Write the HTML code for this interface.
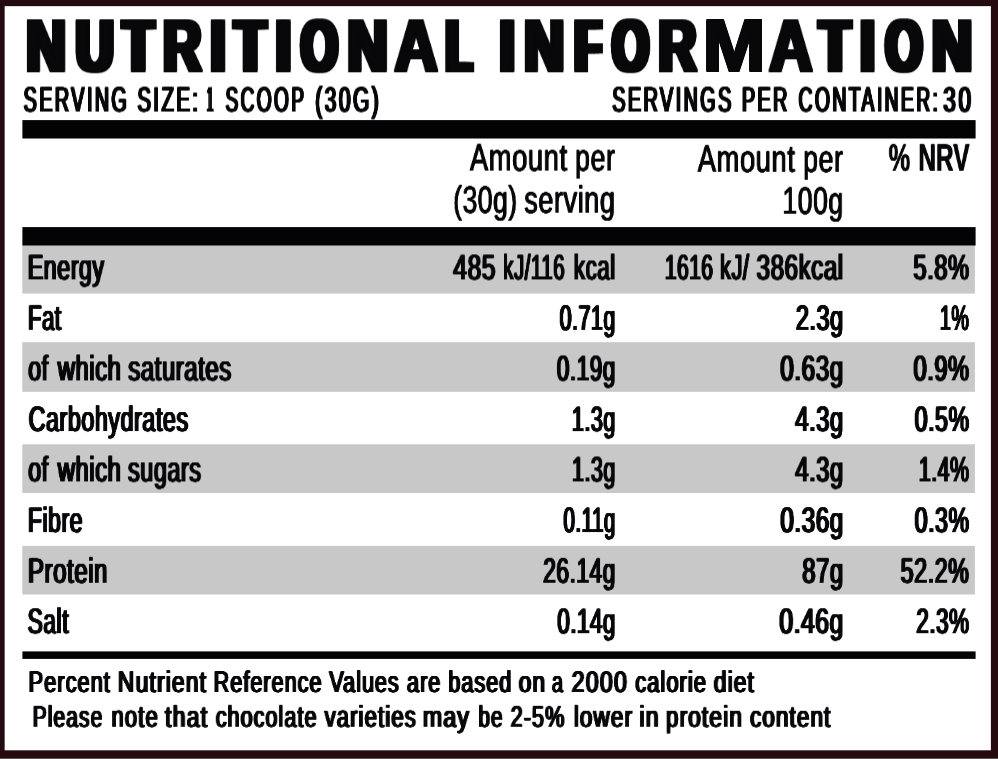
<!DOCTYPE html>
<html lang="en">
<head>
<meta charset="utf-8">
<title>Nutritional Information</title>
<style>
html,body{margin:0;padding:0;}
body{width:998px;height:759px;overflow:hidden;background:#230b10;position:relative;font-family:"Liberation Sans",sans-serif;}
#bg{position:absolute;left:0;top:0;width:998px;height:759px;display:block;}
.t{will-change:transform;position:absolute;white-space:pre;line-height:1;font-weight:bold;transform-origin:0 0;color:#08080a;font-family:"Liberation Sans",sans-serif;text-rendering:geometricPrecision;}
</style>
</head>
<body>
<svg id="bg" width="998" height="759" viewBox="0 0 998 759">
<rect x="0" y="0" width="998.00" height="759.00" fill="#230b10"/>
<rect x="0" y="757.9" width="998.00" height="1.10" fill="#5b5056"/>
<rect x="4.65" y="6.15" width="986.25" height="744.15" fill="#ffffff"/>
<rect x="22.3" y="240" width="952.60" height="53.60" fill="#c9c8c8"/>
<rect x="22.3" y="342.2" width="952.60" height="49.60" fill="#c9c8c8"/>
<rect x="22.3" y="444.3" width="952.60" height="48.70" fill="#c9c8c8"/>
<rect x="22.3" y="545.9" width="952.60" height="48.60" fill="#c9c8c8"/>
<rect x="22.4" y="120.1" width="953.20" height="18.40" fill="#030305"/>
<rect x="22.4" y="227.1" width="953.20" height="18.40" fill="#030305"/>
<rect x="22.4" y="651.4" width="953.20" height="7.50" fill="#030305"/>
</svg>
<div id="txt">
<div class="title">
<span class="t" style="left:26px;top:9px;font-size:74.01px;transform:translate(0.24px,0.26px) scaleX(0.7384);text-shadow:-3.9px -1.1px 0 #08080a,-3.9px 1.1px 0 #08080a,-3.9px 0px 0 #08080a,3.9px -1.1px 0 #08080a,3.9px 1.1px 0 #08080a,3.9px 0px 0 #08080a,0px -1.1px 0 #08080a,0px 1.1px 0 #08080a;">N</span><span class="t" style="left:75px;top:9px;font-size:74.01px;transform:translate(0.94px,0.26px) scaleX(0.7039);text-shadow:-4.8px -1.1px 0 #08080a,-4.8px 1.1px 0 #08080a,-4.8px 0px 0 #08080a,4.8px -1.1px 0 #08080a,4.8px 1.1px 0 #08080a,4.8px 0px 0 #08080a,0px -1.1px 0 #08080a,0px 1.1px 0 #08080a;">U</span><span class="t" style="left:123px;top:9px;font-size:74.01px;transform:translate(0.14px,0.26px) scaleX(0.6690);text-shadow:-5.4px -1.1px 0 #08080a,-5.4px 1.1px 0 #08080a,-5.4px 0px 0 #08080a,5.4px -1.1px 0 #08080a,5.4px 1.1px 0 #08080a,5.4px 0px 0 #08080a,0px -1.1px 0 #08080a,0px 1.1px 0 #08080a;">T</span><span class="t" style="left:162px;top:9px;font-size:74.01px;transform:translate(0.90px,0.26px) scaleX(0.7168);text-shadow:-4.1px -1.1px 0 #08080a,-4.1px 1.1px 0 #08080a,-4.1px 0px 0 #08080a,4.1px -1.1px 0 #08080a,4.1px 1.1px 0 #08080a,4.1px 0px 0 #08080a,0px -1.1px 0 #08080a,0px 1.1px 0 #08080a;">R</span><span class="t" style="left:210px;top:9px;font-size:74.01px;transform:translate(0.02px,0.26px) scaleX(0.7652);text-shadow:-3.9px -1.1px 0 #08080a,-3.9px 1.1px 0 #08080a,-3.9px 0px 0 #08080a,3.9px -1.1px 0 #08080a,3.9px 1.1px 0 #08080a,3.9px 0px 0 #08080a,0px -1.1px 0 #08080a,0px 1.1px 0 #08080a;">I</span><span class="t" style="left:234px;top:9px;font-size:74.01px;transform:translate(0.99px,0.26px) scaleX(0.6735);text-shadow:-5.4px -1.1px 0 #08080a,-5.4px 1.1px 0 #08080a,-5.4px 0px 0 #08080a,5.4px -1.1px 0 #08080a,5.4px 1.1px 0 #08080a,5.4px 0px 0 #08080a,0px -1.1px 0 #08080a,0px 1.1px 0 #08080a;">T</span><span class="t" style="left:275px;top:9px;font-size:74.01px;transform:translate(0.36px,0.26px) scaleX(0.7714);text-shadow:-3.9px -1.1px 0 #08080a,-3.9px 1.1px 0 #08080a,-3.9px 0px 0 #08080a,3.9px -1.1px 0 #08080a,3.9px 1.1px 0 #08080a,3.9px 0px 0 #08080a,0px -1.1px 0 #08080a,0px 1.1px 0 #08080a;">I</span><span class="t" style="left:300px;top:9px;font-size:74.01px;transform:translate(0.95px,0.31px) scaleX(0.6378);text-shadow:-5.2px -1.1px 0 #08080a,-5.2px 1.1px 0 #08080a,-5.2px 0px 0 #08080a,5.2px -1.1px 0 #08080a,5.2px 1.1px 0 #08080a,5.2px 0px 0 #08080a,0px -1.1px 0 #08080a,0px 1.1px 0 #08080a;">O</span><span class="t" style="left:347px;top:9px;font-size:74.01px;transform:translate(0.53px,0.26px) scaleX(0.7486);text-shadow:-3.9px -1.1px 0 #08080a,-3.9px 1.1px 0 #08080a,-3.9px 0px 0 #08080a,3.9px -1.1px 0 #08080a,3.9px 1.1px 0 #08080a,3.9px 0px 0 #08080a,0px -1.1px 0 #08080a,0px 1.1px 0 #08080a;">N</span><span class="t" style="left:394px;top:9px;font-size:74.01px;transform:translate(0.59px,0.26px) scaleX(0.8059);text-shadow:-2.8px -1.1px 0 #08080a,-2.8px 1.1px 0 #08080a,-2.8px 0px 0 #08080a,2.8px -1.1px 0 #08080a,2.8px 1.1px 0 #08080a,2.8px 0px 0 #08080a,0px -1.1px 0 #08080a,0px 1.1px 0 #08080a;">A</span><span class="t" style="left:446px;top:9px;font-size:74.01px;transform:translate(0.50px,0.26px) scaleX(0.5540);text-shadow:-7px -1.1px 0 #08080a,-7px 1.1px 0 #08080a,-7px 0px 0 #08080a,7px -1.1px 0 #08080a,7px 1.1px 0 #08080a,7px 0px 0 #08080a,0px -1.1px 0 #08080a,0px 1.1px 0 #08080a;">L</span> <span class="t" style="left:499px;top:9px;font-size:74.01px;transform:translate(0.21px,0.26px) scaleX(0.7667);text-shadow:-3.9px -1.1px 0 #08080a,-3.9px 1.1px 0 #08080a,-3.9px 0px 0 #08080a,3.9px -1.1px 0 #08080a,3.9px 1.1px 0 #08080a,3.9px 0px 0 #08080a,0px -1.1px 0 #08080a,0px 1.1px 0 #08080a;">I</span><span class="t" style="left:524px;top:9px;font-size:74.01px;transform:translate(0.05px,0.26px) scaleX(0.7474);text-shadow:-3.9px -1.1px 0 #08080a,-3.9px 1.1px 0 #08080a,-3.9px 0px 0 #08080a,3.9px -1.1px 0 #08080a,3.9px 1.1px 0 #08080a,3.9px 0px 0 #08080a,0px -1.1px 0 #08080a,0px 1.1px 0 #08080a;">N</span><span class="t" style="left:575px;top:9px;font-size:74.01px;transform:translate(0.18px,0.26px) scaleX(0.5729);text-shadow:-6.5px -1.1px 0 #08080a,-6.5px 1.1px 0 #08080a,-6.5px 0px 0 #08080a,6.5px -1.1px 0 #08080a,6.5px 1.1px 0 #08080a,6.5px 0px 0 #08080a,0px -1.1px 0 #08080a,0px 1.1px 0 #08080a;">F</span><span class="t" style="left:612px;top:9px;font-size:74.01px;transform:translate(0.20px,0.25px) scaleX(0.6354);text-shadow:-5.2px -1.1px 0 #08080a,-5.2px 1.1px 0 #08080a,-5.2px 0px 0 #08080a,5.2px -1.1px 0 #08080a,5.2px 1.1px 0 #08080a,5.2px 0px 0 #08080a,0px -1.1px 0 #08080a,0px 1.1px 0 #08080a;">O</span><span class="t" style="left:658px;top:9px;font-size:74.01px;transform:translate(0.48px,0.26px) scaleX(0.7083);text-shadow:-4.1px -1.1px 0 #08080a,-4.1px 1.1px 0 #08080a,-4.1px 0px 0 #08080a,4.1px -1.1px 0 #08080a,4.1px 1.1px 0 #08080a,4.1px 0px 0 #08080a,0px -1.1px 0 #08080a,0px 1.1px 0 #08080a;">R</span><span class="t" style="left:702px;top:9px;font-size:74.01px;transform:translate(0.68px,0.31px) scaleX(1.0176);text-shadow:-1.5px -1.1px 0 #08080a,-1.5px 1.1px 0 #08080a,-1.5px 0px 0 #08080a,1.5px -1.1px 0 #08080a,1.5px 1.1px 0 #08080a,1.5px 0px 0 #08080a,0px -1.1px 0 #08080a,0px 1.1px 0 #08080a;">M</span><span class="t" style="left:769px;top:9px;font-size:74.01px;transform:translate(0.28px,0.26px) scaleX(0.8068);text-shadow:-2.8px -1.1px 0 #08080a,-2.8px 1.1px 0 #08080a,-2.8px 0px 0 #08080a,2.8px -1.1px 0 #08080a,2.8px 1.1px 0 #08080a,2.8px 0px 0 #08080a,0px -1.1px 0 #08080a,0px 1.1px 0 #08080a;">A</span><span class="t" style="left:819px;top:9px;font-size:74.01px;transform:translate(0.82px,0.26px) scaleX(0.6697);text-shadow:-5.4px -1.1px 0 #08080a,-5.4px 1.1px 0 #08080a,-5.4px 0px 0 #08080a,5.4px -1.1px 0 #08080a,5.4px 1.1px 0 #08080a,5.4px 0px 0 #08080a,0px -1.1px 0 #08080a,0px 1.1px 0 #08080a;">T</span><span class="t" style="left:859px;top:9px;font-size:74.01px;transform:translate(0.78px,0.26px) scaleX(0.7413);text-shadow:-3.9px -1.1px 0 #08080a,-3.9px 1.1px 0 #08080a,-3.9px 0px 0 #08080a,3.9px -1.1px 0 #08080a,3.9px 1.1px 0 #08080a,3.9px 0px 0 #08080a,0px -1.1px 0 #08080a,0px 1.1px 0 #08080a;">I</span><span class="t" style="left:885px;top:9px;font-size:74.01px;transform:translate(0.62px,0.25px) scaleX(0.6329);text-shadow:-5.2px -1.1px 0 #08080a,-5.2px 1.1px 0 #08080a,-5.2px 0px 0 #08080a,5.2px -1.1px 0 #08080a,5.2px 1.1px 0 #08080a,5.2px 0px 0 #08080a,0px -1.1px 0 #08080a,0px 1.1px 0 #08080a;">O</span><span class="t" style="left:931px;top:9px;font-size:74.01px;transform:translate(0.78px,0.26px) scaleX(0.7524);text-shadow:-3.9px -1.1px 0 #08080a,-3.9px 1.1px 0 #08080a,-3.9px 0px 0 #08080a,3.9px -1.1px 0 #08080a,3.9px 1.1px 0 #08080a,3.9px 0px 0 #08080a,0px -1.1px 0 #08080a,0px 1.1px 0 #08080a;">N</span></div>
<div class="serving">
<span class="t" style="left:23px;top:82px;font-size:35.34px;font-weight:normal;transform:translate(0.59px,0.51px) scaleX(0.5584);letter-spacing:4.4px;text-shadow:-1.5px -0.3px 0 #08080a,-1.5px 0.3px 0 #08080a,-1.5px 0px 0 #08080a,1.5px -0.3px 0 #08080a,1.5px 0.3px 0 #08080a,1.5px 0px 0 #08080a,0px -0.3px 0 #08080a,0px 0.3px 0 #08080a;">SERVING</span> <span class="t" style="left:137px;top:82px;font-size:35.09px;font-weight:normal;transform:translate(0.45px,0.51px) scaleX(0.5751);letter-spacing:4.4px;text-shadow:-1.5px -0.3px 0 #08080a,-1.5px 0.3px 0 #08080a,-1.5px 0px 0 #08080a,1.5px -0.3px 0 #08080a,1.5px 0.3px 0 #08080a,1.5px 0px 0 #08080a,0px -0.3px 0 #08080a,0px 0.3px 0 #08080a;">SIZE:</span> <span class="t" style="left:206px;top:82px;font-size:35.09px;font-weight:normal;transform:translate(0.88px,0.51px) scaleX(0.3105);letter-spacing:4.4px;text-shadow:-3.6px -0.3px 0 #08080a,-3.6px 0.3px 0 #08080a,-3.6px 0px 0 #08080a,3.6px -0.3px 0 #08080a,3.6px 0.3px 0 #08080a,3.6px 0px 0 #08080a,0px -0.3px 0 #08080a,0px 0.3px 0 #08080a;">1</span> <span class="t" style="left:225px;top:82px;font-size:35.09px;font-weight:normal;transform:translate(0.48px,0.51px) scaleX(0.5432);letter-spacing:4.4px;text-shadow:-1.5px -0.3px 0 #08080a,-1.5px 0.3px 0 #08080a,-1.5px 0px 0 #08080a,1.5px -0.3px 0 #08080a,1.5px 0.3px 0 #08080a,1.5px 0px 0 #08080a,0px -0.3px 0 #08080a,0px 0.3px 0 #08080a;">SCOOP</span> <span class="t" style="left:315px;top:82px;font-size:35.09px;font-weight:normal;transform:translate(0.20px,0.51px) scaleX(0.5919);letter-spacing:4.4px;text-shadow:-1.5px -0.3px 0 #08080a,-1.5px 0.3px 0 #08080a,-1.5px 0px 0 #08080a,1.5px -0.3px 0 #08080a,1.5px 0.3px 0 #08080a,1.5px 0px 0 #08080a,0px -0.3px 0 #08080a,0px 0.3px 0 #08080a;">(30G)</span>
<span class="t" style="left:612px;top:82px;font-size:35.34px;font-weight:normal;transform:translate(0.25px,0.51px) scaleX(0.5593);letter-spacing:4.4px;text-shadow:-1.5px -0.3px 0 #08080a,-1.5px 0.3px 0 #08080a,-1.5px 0px 0 #08080a,1.5px -0.3px 0 #08080a,1.5px 0.3px 0 #08080a,1.5px 0px 0 #08080a,0px -0.3px 0 #08080a,0px 0.3px 0 #08080a;">SERVINGS</span> <span class="t" style="left:741px;top:82px;font-size:35.09px;font-weight:normal;transform:translate(0.92px,0.51px) scaleX(0.5609);letter-spacing:4.4px;text-shadow:-1.5px -0.3px 0 #08080a,-1.5px 0.3px 0 #08080a,-1.5px 0px 0 #08080a,1.5px -0.3px 0 #08080a,1.5px 0.3px 0 #08080a,1.5px 0px 0 #08080a,0px -0.3px 0 #08080a,0px 0.3px 0 #08080a;">PER</span> <span class="t" style="left:798px;top:82px;font-size:35.09px;font-weight:normal;transform:translate(0.54px,0.51px) scaleX(0.5504);letter-spacing:4.4px;text-shadow:-1.5px -0.3px 0 #08080a,-1.5px 0.3px 0 #08080a,-1.5px 0px 0 #08080a,1.5px -0.3px 0 #08080a,1.5px 0.3px 0 #08080a,1.5px 0px 0 #08080a,0px -0.3px 0 #08080a,0px 0.3px 0 #08080a;">CONTAINER:</span><span class="t" style="left:943px;top:82px;font-size:35.09px;font-weight:normal;transform:translate(0.32px,0.51px) scaleX(0.6344);letter-spacing:4.4px;text-shadow:-1.5px -0.3px 0 #08080a,-1.5px 0.3px 0 #08080a,-1.5px 0px 0 #08080a,1.5px -0.3px 0 #08080a,1.5px 0.3px 0 #08080a,1.5px 0px 0 #08080a,0px -0.3px 0 #08080a,0px 0.3px 0 #08080a;">30</span>
</div>
<div class="colhead">
<span class="t" style="left:469px;top:139px;font-size:38.12px;font-weight:normal;transform:translate(0.87px,0.59px) scaleX(0.7181);letter-spacing:0.8px;text-shadow:-0.5px -0.15px 0 #08080a,-0.5px 0.15px 0 #08080a,-0.5px 0px 0 #08080a,0.5px -0.15px 0 #08080a,0.5px 0.15px 0 #08080a,0.5px 0px 0 #08080a,0px -0.15px 0 #08080a,0px 0.15px 0 #08080a;">Amount</span> <span class="t" style="left:575px;top:139px;font-size:38.12px;font-weight:normal;transform:translate(0.04px,0.59px) scaleX(0.7030);letter-spacing:0.8px;text-shadow:-0.5px -0.15px 0 #08080a,-0.5px 0.15px 0 #08080a,-0.5px 0px 0 #08080a,0.5px -0.15px 0 #08080a,0.5px 0.15px 0 #08080a,0.5px 0px 0 #08080a,0px -0.15px 0 #08080a,0px 0.15px 0 #08080a;">per</span>
<span class="t" style="left:453px;top:181px;font-size:38.12px;font-weight:normal;transform:translate(0.21px,0.69px) scaleX(0.6926);letter-spacing:0.8px;text-shadow:-0.5px -0.15px 0 #08080a,-0.5px 0.15px 0 #08080a,-0.5px 0px 0 #08080a,0.5px -0.15px 0 #08080a,0.5px 0.15px 0 #08080a,0.5px 0px 0 #08080a,0px -0.15px 0 #08080a,0px 0.15px 0 #08080a;">(30g)</span> <span class="t" style="left:524px;top:181px;font-size:38.12px;font-weight:normal;transform:translate(0.25px,0.69px) scaleX(0.7101);letter-spacing:0.8px;text-shadow:-0.5px -0.15px 0 #08080a,-0.5px 0.15px 0 #08080a,-0.5px 0px 0 #08080a,0.5px -0.15px 0 #08080a,0.5px 0.15px 0 #08080a,0.5px 0px 0 #08080a,0px -0.15px 0 #08080a,0px 0.15px 0 #08080a;">serving</span>
<span class="t" style="left:697px;top:140px;font-size:38.12px;font-weight:normal;transform:translate(0.69px,0.78px) scaleX(0.7180);letter-spacing:0.8px;text-shadow:-0.5px -0.15px 0 #08080a,-0.5px 0.15px 0 #08080a,-0.5px 0px 0 #08080a,0.5px -0.15px 0 #08080a,0.5px 0.15px 0 #08080a,0.5px 0px 0 #08080a,0px -0.15px 0 #08080a,0px 0.15px 0 #08080a;">Amount</span> <span class="t" style="left:803px;top:140px;font-size:38.12px;font-weight:normal;transform:translate(0.15px,0.78px) scaleX(0.7010);letter-spacing:0.8px;text-shadow:-0.5px -0.15px 0 #08080a,-0.5px 0.15px 0 #08080a,-0.5px 0px 0 #08080a,0.5px -0.15px 0 #08080a,0.5px 0.15px 0 #08080a,0.5px 0px 0 #08080a,0px -0.15px 0 #08080a,0px 0.15px 0 #08080a;">per</span>
<span class="t" style="left:782px;top:182px;font-size:38.12px;font-weight:normal;transform:translate(0.36px,0.69px) scaleX(0.6971);letter-spacing:0.8px;text-shadow:-0.5px -0.15px 0 #08080a,-0.5px 0.15px 0 #08080a,-0.5px 0px 0 #08080a,0.5px -0.15px 0 #08080a,0.5px 0.15px 0 #08080a,0.5px 0px 0 #08080a,0px -0.15px 0 #08080a,0px 0.15px 0 #08080a;">100g</span>
<span class="t" style="left:888px;top:139px;font-size:38.56px;transform:translate(0.64px,0.81px) scaleX(0.6270);text-shadow:-0.5px 0px 0 #08080a,0.5px 0px 0 #08080a;">%</span> <span class="t" style="left:918px;top:139px;font-size:38.56px;transform:translate(0.35px,0.81px) scaleX(0.6335);text-shadow:-0.5px 0px 0 #08080a,0.5px 0px 0 #08080a;">NRV</span>
</div>
<div class="row">
<span class="t" style="left:27px;top:250px;font-size:35.32px;font-weight:normal;transform:translate(0.79px,0.36px) scaleX(0.6542);letter-spacing:0.9px;text-shadow:-1.15px -0.2px 0 #08080a,-1.15px 0.2px 0 #08080a,-1.15px 0px 0 #08080a,1.15px -0.2px 0 #08080a,1.15px 0.2px 0 #08080a,1.15px 0px 0 #08080a,0px -0.2px 0 #08080a,0px 0.2px 0 #08080a;">Energy</span>
<span class="t" style="left:453px;top:250px;font-size:35.32px;font-weight:normal;transform:translate(0.35px,0.41px) scaleX(0.6918);letter-spacing:0.9px;text-shadow:-1.15px -0.2px 0 #08080a,-1.15px 0.2px 0 #08080a,-1.15px 0px 0 #08080a,1.15px -0.2px 0 #08080a,1.15px 0.2px 0 #08080a,1.15px 0px 0 #08080a,0px -0.2px 0 #08080a,0px 0.2px 0 #08080a;">485</span> <span class="t" style="left:503px;top:250px;font-size:35.32px;font-weight:normal;transform:translate(0.19px,0.40px) scaleX(0.5792);letter-spacing:0.9px;text-shadow:-1.15px -0.2px 0 #08080a,-1.15px 0.2px 0 #08080a,-1.15px 0px 0 #08080a,1.15px -0.2px 0 #08080a,1.15px 0.2px 0 #08080a,1.15px 0px 0 #08080a,0px -0.2px 0 #08080a,0px 0.2px 0 #08080a;">kJ/116</span> <span class="t" style="left:573px;top:250px;font-size:35.32px;font-weight:normal;transform:translate(0.79px,0.40px) scaleX(0.6322);letter-spacing:0.9px;text-shadow:-1.15px -0.2px 0 #08080a,-1.15px 0.2px 0 #08080a,-1.15px 0px 0 #08080a,1.15px -0.2px 0 #08080a,1.15px 0.2px 0 #08080a,1.15px 0px 0 #08080a,0px -0.2px 0 #08080a,0px 0.2px 0 #08080a;">kcal</span>
<span class="t" style="left:664px;top:250px;font-size:35.32px;font-weight:normal;transform:translate(0.91px,0.40px) scaleX(0.5906);letter-spacing:0.9px;text-shadow:-1.15px -0.2px 0 #08080a,-1.15px 0.2px 0 #08080a,-1.15px 0px 0 #08080a,1.15px -0.2px 0 #08080a,1.15px 0.2px 0 #08080a,1.15px 0px 0 #08080a,0px -0.2px 0 #08080a,0px 0.2px 0 #08080a;">1616</span> <span class="t" style="left:720px;top:250px;font-size:35.32px;font-weight:normal;transform:translate(0.02px,0.35px) scaleX(0.6152);letter-spacing:0.9px;text-shadow:-1.15px -0.2px 0 #08080a,-1.15px 0.2px 0 #08080a,-1.15px 0px 0 #08080a,1.15px -0.2px 0 #08080a,1.15px 0.2px 0 #08080a,1.15px 0px 0 #08080a,0px -0.2px 0 #08080a,0px 0.2px 0 #08080a;">kJ/</span> <span class="t" style="left:756px;top:250px;font-size:35.32px;font-weight:normal;transform:translate(0.57px,0.40px) scaleX(0.6816);letter-spacing:0.9px;text-shadow:-1.15px -0.2px 0 #08080a,-1.15px 0.2px 0 #08080a,-1.15px 0px 0 #08080a,1.15px -0.2px 0 #08080a,1.15px 0.2px 0 #08080a,1.15px 0px 0 #08080a,0px -0.2px 0 #08080a,0px 0.2px 0 #08080a;">386kcal</span>
<span class="t" style="left:913px;top:250px;font-size:35.32px;font-weight:normal;transform:translate(0.45px,0.35px) scaleX(0.6663);letter-spacing:0.9px;text-shadow:-1.15px -0.2px 0 #08080a,-1.15px 0.2px 0 #08080a,-1.15px 0px 0 #08080a,1.15px -0.2px 0 #08080a,1.15px 0.2px 0 #08080a,1.15px 0px 0 #08080a,0px -0.2px 0 #08080a,0px 0.2px 0 #08080a;">5.8%</span>
</div>
<div class="row">
<span class="t" style="left:27px;top:300px;font-size:35.32px;font-weight:normal;transform:translate(0.98px,0.87px) scaleX(0.6253);letter-spacing:0.9px;text-shadow:-1.15px -0.2px 0 #08080a,-1.15px 0.2px 0 #08080a,-1.15px 0px 0 #08080a,1.15px -0.2px 0 #08080a,1.15px 0.2px 0 #08080a,1.15px 0px 0 #08080a,0px -0.2px 0 #08080a,0px 0.2px 0 #08080a;">Fat</span>
<span class="t" style="left:559px;top:300px;font-size:35.32px;font-weight:normal;transform:translate(0.63px,0.89px) scaleX(0.6041);letter-spacing:0.9px;text-shadow:-1.15px -0.2px 0 #08080a,-1.15px 0.2px 0 #08080a,-1.15px 0px 0 #08080a,1.15px -0.2px 0 #08080a,1.15px 0.2px 0 #08080a,1.15px 0px 0 #08080a,0px -0.2px 0 #08080a,0px 0.2px 0 #08080a;">0.71g</span>
<span class="t" style="left:795px;top:300px;font-size:35.32px;font-weight:normal;transform:translate(0.90px,0.88px) scaleX(0.6587);letter-spacing:0.9px;text-shadow:-1.15px -0.2px 0 #08080a,-1.15px 0.2px 0 #08080a,-1.15px 0px 0 #08080a,1.15px -0.2px 0 #08080a,1.15px 0.2px 0 #08080a,1.15px 0px 0 #08080a,0px -0.2px 0 #08080a,0px 0.2px 0 #08080a;">2.3g</span>
<span class="t" style="left:939px;top:300px;font-size:35.32px;font-weight:normal;transform:translate(0.95px,0.88px) scaleX(0.5531);letter-spacing:0.9px;text-shadow:-1.15px -0.2px 0 #08080a,-1.15px 0.2px 0 #08080a,-1.15px 0px 0 #08080a,1.15px -0.2px 0 #08080a,1.15px 0.2px 0 #08080a,1.15px 0px 0 #08080a,0px -0.2px 0 #08080a,0px 0.2px 0 #08080a;">1%</span>
</div>
<div class="row">
<span class="t" style="left:28px;top:351px;font-size:35.32px;font-weight:normal;transform:translate(0.29px,0.41px) scaleX(0.6497);letter-spacing:0.9px;text-shadow:-1.15px -0.2px 0 #08080a,-1.15px 0.2px 0 #08080a,-1.15px 0px 0 #08080a,1.15px -0.2px 0 #08080a,1.15px 0.2px 0 #08080a,1.15px 0px 0 #08080a,0px -0.2px 0 #08080a,0px 0.2px 0 #08080a;">of</span> <span class="t" style="left:57px;top:351px;font-size:35.32px;font-weight:normal;transform:translate(0.82px,0.40px) scaleX(0.6716);letter-spacing:0.9px;text-shadow:-1.15px -0.2px 0 #08080a,-1.15px 0.2px 0 #08080a,-1.15px 0px 0 #08080a,1.15px -0.2px 0 #08080a,1.15px 0.2px 0 #08080a,1.15px 0px 0 #08080a,0px -0.2px 0 #08080a,0px 0.2px 0 #08080a;">which</span> <span class="t" style="left:128px;top:351px;font-size:35.32px;font-weight:normal;transform:translate(0.33px,0.35px) scaleX(0.6743);letter-spacing:0.9px;text-shadow:-1.15px -0.2px 0 #08080a,-1.15px 0.2px 0 #08080a,-1.15px 0px 0 #08080a,1.15px -0.2px 0 #08080a,1.15px 0.2px 0 #08080a,1.15px 0px 0 #08080a,0px -0.2px 0 #08080a,0px 0.2px 0 #08080a;">saturates</span>
<span class="t" style="left:556px;top:351px;font-size:35.32px;font-weight:normal;transform:translate(0.77px,0.40px) scaleX(0.6355);letter-spacing:0.9px;text-shadow:-1.15px -0.2px 0 #08080a,-1.15px 0.2px 0 #08080a,-1.15px 0px 0 #08080a,1.15px -0.2px 0 #08080a,1.15px 0.2px 0 #08080a,1.15px 0px 0 #08080a,0px -0.2px 0 #08080a,0px 0.2px 0 #08080a;">0.19g</span>
<span class="t" style="left:780px;top:351px;font-size:35.32px;font-weight:normal;transform:translate(0.30px,0.35px) scaleX(0.6831);letter-spacing:0.9px;text-shadow:-1.15px -0.2px 0 #08080a,-1.15px 0.2px 0 #08080a,-1.15px 0px 0 #08080a,1.15px -0.2px 0 #08080a,1.15px 0.2px 0 #08080a,1.15px 0px 0 #08080a,0px -0.2px 0 #08080a,0px 0.2px 0 #08080a;">0.63g</span>
<span class="t" style="left:913px;top:351px;font-size:35.32px;font-weight:normal;transform:translate(0.54px,0.35px) scaleX(0.6652);letter-spacing:0.9px;text-shadow:-1.15px -0.2px 0 #08080a,-1.15px 0.2px 0 #08080a,-1.15px 0px 0 #08080a,1.15px -0.2px 0 #08080a,1.15px 0.2px 0 #08080a,1.15px 0px 0 #08080a,0px -0.2px 0 #08080a,0px 0.2px 0 #08080a;">0.9%</span>
</div>
<div class="row">
<span class="t" style="left:28px;top:402px;font-size:35.32px;font-weight:normal;transform:translate(0.63px,0.06px) scaleX(0.6577);letter-spacing:0.9px;text-shadow:-1.15px -0.2px 0 #08080a,-1.15px 0.2px 0 #08080a,-1.15px 0px 0 #08080a,1.15px -0.2px 0 #08080a,1.15px 0.2px 0 #08080a,1.15px 0px 0 #08080a,0px -0.2px 0 #08080a,0px 0.2px 0 #08080a;">Carbohydrates</span>
<span class="t" style="left:571px;top:402px;font-size:35.32px;font-weight:normal;transform:translate(0.95px,0.09px) scaleX(0.6053);letter-spacing:0.9px;text-shadow:-1.15px -0.2px 0 #08080a,-1.15px 0.2px 0 #08080a,-1.15px 0px 0 #08080a,1.15px -0.2px 0 #08080a,1.15px 0.2px 0 #08080a,1.15px 0px 0 #08080a,0px -0.2px 0 #08080a,0px 0.2px 0 #08080a;">1.3g</span>
<span class="t" style="left:795px;top:402px;font-size:35.32px;font-weight:normal;transform:translate(0.33px,0.06px) scaleX(0.6671);letter-spacing:0.9px;text-shadow:-1.15px -0.2px 0 #08080a,-1.15px 0.2px 0 #08080a,-1.15px 0px 0 #08080a,1.15px -0.2px 0 #08080a,1.15px 0.2px 0 #08080a,1.15px 0px 0 #08080a,0px -0.2px 0 #08080a,0px 0.2px 0 #08080a;">4.3g</span>
<span class="t" style="left:914px;top:402px;font-size:35.32px;font-weight:normal;transform:translate(0.63px,0.09px) scaleX(0.6526);letter-spacing:0.9px;text-shadow:-1.15px -0.2px 0 #08080a,-1.15px 0.2px 0 #08080a,-1.15px 0px 0 #08080a,1.15px -0.2px 0 #08080a,1.15px 0.2px 0 #08080a,1.15px 0px 0 #08080a,0px -0.2px 0 #08080a,0px 0.2px 0 #08080a;">0.5%</span>
</div>
<div class="row">
<span class="t" style="left:28px;top:452px;font-size:35.32px;font-weight:normal;transform:translate(0.29px,0.43px) scaleX(0.6497);letter-spacing:0.9px;text-shadow:-1.15px -0.2px 0 #08080a,-1.15px 0.2px 0 #08080a,-1.15px 0px 0 #08080a,1.15px -0.2px 0 #08080a,1.15px 0.2px 0 #08080a,1.15px 0px 0 #08080a,0px -0.2px 0 #08080a,0px 0.2px 0 #08080a;">of</span> <span class="t" style="left:57px;top:452px;font-size:35.32px;font-weight:normal;transform:translate(0.82px,0.42px) scaleX(0.6716);letter-spacing:0.9px;text-shadow:-1.15px -0.2px 0 #08080a,-1.15px 0.2px 0 #08080a,-1.15px 0px 0 #08080a,1.15px -0.2px 0 #08080a,1.15px 0.2px 0 #08080a,1.15px 0px 0 #08080a,0px -0.2px 0 #08080a,0px 0.2px 0 #08080a;">which</span> <span class="t" style="left:128px;top:452px;font-size:35.32px;font-weight:normal;transform:translate(0.04px,0.42px) scaleX(0.6598);letter-spacing:0.9px;text-shadow:-1.15px -0.2px 0 #08080a,-1.15px 0.2px 0 #08080a,-1.15px 0px 0 #08080a,1.15px -0.2px 0 #08080a,1.15px 0.2px 0 #08080a,1.15px 0px 0 #08080a,0px -0.2px 0 #08080a,0px 0.2px 0 #08080a;">sugars</span>
<span class="t" style="left:572px;top:452px;font-size:35.32px;font-weight:normal;transform:translate(0.01px,0.43px) scaleX(0.6048);letter-spacing:0.9px;text-shadow:-1.15px -0.2px 0 #08080a,-1.15px 0.2px 0 #08080a,-1.15px 0px 0 #08080a,1.15px -0.2px 0 #08080a,1.15px 0.2px 0 #08080a,1.15px 0px 0 #08080a,0px -0.2px 0 #08080a,0px 0.2px 0 #08080a;">1.3g</span>
<span class="t" style="left:795px;top:452px;font-size:35.32px;font-weight:normal;transform:translate(0.33px,0.42px) scaleX(0.6674);letter-spacing:0.9px;text-shadow:-1.15px -0.2px 0 #08080a,-1.15px 0.2px 0 #08080a,-1.15px 0px 0 #08080a,1.15px -0.2px 0 #08080a,1.15px 0.2px 0 #08080a,1.15px 0px 0 #08080a,0px -0.2px 0 #08080a,0px 0.2px 0 #08080a;">4.3g</span>
<span class="t" style="left:918px;top:452px;font-size:35.32px;font-weight:normal;transform:translate(0.88px,0.43px) scaleX(0.6006);letter-spacing:0.9px;text-shadow:-1.15px -0.2px 0 #08080a,-1.15px 0.2px 0 #08080a,-1.15px 0px 0 #08080a,1.15px -0.2px 0 #08080a,1.15px 0.2px 0 #08080a,1.15px 0px 0 #08080a,0px -0.2px 0 #08080a,0px 0.2px 0 #08080a;">1.4%</span>
</div>
<div class="row">
<span class="t" style="left:27px;top:503px;font-size:35.32px;font-weight:normal;transform:translate(0.96px,0.09px) scaleX(0.6480);letter-spacing:0.9px;text-shadow:-1.15px -0.2px 0 #08080a,-1.15px 0.2px 0 #08080a,-1.15px 0px 0 #08080a,1.15px -0.2px 0 #08080a,1.15px 0.2px 0 #08080a,1.15px 0px 0 #08080a,0px -0.2px 0 #08080a,0px 0.2px 0 #08080a;">Fibre</span>
<span class="t" style="left:563px;top:503px;font-size:35.32px;font-weight:normal;transform:translate(0.43px,0.06px) scaleX(0.5813);letter-spacing:0.9px;text-shadow:-1.15px -0.2px 0 #08080a,-1.15px 0.2px 0 #08080a,-1.15px 0px 0 #08080a,1.15px -0.2px 0 #08080a,1.15px 0.2px 0 #08080a,1.15px 0px 0 #08080a,0px -0.2px 0 #08080a,0px 0.2px 0 #08080a;">0.11g</span>
<span class="t" style="left:780px;top:503px;font-size:35.32px;font-weight:normal;transform:translate(0.40px,0.06px) scaleX(0.6820);letter-spacing:0.9px;text-shadow:-1.15px -0.2px 0 #08080a,-1.15px 0.2px 0 #08080a,-1.15px 0px 0 #08080a,1.15px -0.2px 0 #08080a,1.15px 0.2px 0 #08080a,1.15px 0px 0 #08080a,0px -0.2px 0 #08080a,0px 0.2px 0 #08080a;">0.36g</span>
<span class="t" style="left:914px;top:503px;font-size:35.32px;font-weight:normal;transform:translate(0.63px,0.09px) scaleX(0.6526);letter-spacing:0.9px;text-shadow:-1.15px -0.2px 0 #08080a,-1.15px 0.2px 0 #08080a,-1.15px 0px 0 #08080a,1.15px -0.2px 0 #08080a,1.15px 0.2px 0 #08080a,1.15px 0px 0 #08080a,0px -0.2px 0 #08080a,0px 0.2px 0 #08080a;">0.3%</span>
</div>
<div class="row">
<span class="t" style="left:27px;top:553px;font-size:35.32px;font-weight:normal;transform:translate(0.97px,0.78px) scaleX(0.6769);letter-spacing:0.9px;text-shadow:-1.15px -0.2px 0 #08080a,-1.15px 0.2px 0 #08080a,-1.15px 0px 0 #08080a,1.15px -0.2px 0 #08080a,1.15px 0.2px 0 #08080a,1.15px 0px 0 #08080a,0px -0.2px 0 #08080a,0px 0.2px 0 #08080a;">Protein</span>
<span class="t" style="left:543px;top:553px;font-size:35.32px;font-weight:normal;transform:translate(0.18px,0.79px) scaleX(0.6408);letter-spacing:0.9px;text-shadow:-1.15px -0.2px 0 #08080a,-1.15px 0.2px 0 #08080a,-1.15px 0px 0 #08080a,1.15px -0.2px 0 #08080a,1.15px 0.2px 0 #08080a,1.15px 0px 0 #08080a,0px -0.2px 0 #08080a,0px 0.2px 0 #08080a;">26.14g</span>
<span class="t" style="left:802px;top:553px;font-size:35.32px;font-weight:normal;transform:translate(0.32px,0.79px) scaleX(0.6699);letter-spacing:0.9px;text-shadow:-1.15px -0.2px 0 #08080a,-1.15px 0.2px 0 #08080a,-1.15px 0px 0 #08080a,1.15px -0.2px 0 #08080a,1.15px 0.2px 0 #08080a,1.15px 0px 0 #08080a,0px -0.2px 0 #08080a,0px 0.2px 0 #08080a;">87g</span>
<span class="t" style="left:900px;top:553px;font-size:35.32px;font-weight:normal;transform:translate(0.66px,0.79px) scaleX(0.6564);letter-spacing:0.9px;text-shadow:-1.15px -0.2px 0 #08080a,-1.15px 0.2px 0 #08080a,-1.15px 0px 0 #08080a,1.15px -0.2px 0 #08080a,1.15px 0.2px 0 #08080a,1.15px 0px 0 #08080a,0px -0.2px 0 #08080a,0px 0.2px 0 #08080a;">52.2%</span>
</div>
<div class="row">
<span class="t" style="left:27px;top:604px;font-size:35.32px;font-weight:normal;transform:translate(0.63px,0.16px) scaleX(0.6421);letter-spacing:0.9px;text-shadow:-1.15px -0.2px 0 #08080a,-1.15px 0.2px 0 #08080a,-1.15px 0px 0 #08080a,1.15px -0.2px 0 #08080a,1.15px 0.2px 0 #08080a,1.15px 0px 0 #08080a,0px -0.2px 0 #08080a,0px 0.2px 0 #08080a;">Salt</span>
<span class="t" style="left:557px;top:604px;font-size:35.32px;font-weight:normal;transform:translate(0.37px,0.16px) scaleX(0.6290);letter-spacing:0.9px;text-shadow:-1.15px -0.2px 0 #08080a,-1.15px 0.2px 0 #08080a,-1.15px 0px 0 #08080a,1.15px -0.2px 0 #08080a,1.15px 0.2px 0 #08080a,1.15px 0px 0 #08080a,0px -0.2px 0 #08080a,0px 0.2px 0 #08080a;">0.14g</span>
<span class="t" style="left:779px;top:604px;font-size:35.32px;font-weight:normal;transform:translate(0.40px,0.16px) scaleX(0.6930);letter-spacing:0.9px;text-shadow:-1.15px -0.2px 0 #08080a,-1.15px 0.2px 0 #08080a,-1.15px 0px 0 #08080a,1.15px -0.2px 0 #08080a,1.15px 0.2px 0 #08080a,1.15px 0px 0 #08080a,0px -0.2px 0 #08080a,0px 0.2px 0 #08080a;">0.46g</span>
<span class="t" style="left:916px;top:604px;font-size:35.32px;font-weight:normal;transform:translate(0.34px,0.16px) scaleX(0.6314);letter-spacing:0.9px;text-shadow:-1.15px -0.2px 0 #08080a,-1.15px 0.2px 0 #08080a,-1.15px 0px 0 #08080a,1.15px -0.2px 0 #08080a,1.15px 0.2px 0 #08080a,1.15px 0px 0 #08080a,0px -0.2px 0 #08080a,0px 0.2px 0 #08080a;">2.3%</span>
</div>
<div class="notes">
<span class="t" style="left:28px;top:667px;font-size:29.65px;font-weight:normal;transform:translate(0.61px,0.96px) scaleX(0.7302);letter-spacing:1.5px;text-shadow:-1px -0.3px 0 #08080a,-1px 0.3px 0 #08080a,-1px 0px 0 #08080a,1px -0.3px 0 #08080a,1px 0.3px 0 #08080a,1px 0px 0 #08080a,0px -0.3px 0 #08080a,0px 0.3px 0 #08080a;">Percent</span> <span class="t" style="left:117px;top:667px;font-size:29.65px;font-weight:normal;transform:translate(0.85px,0.96px) scaleX(0.7713);letter-spacing:1.5px;text-shadow:-1px -0.3px 0 #08080a,-1px 0.3px 0 #08080a,-1px 0px 0 #08080a,1px -0.3px 0 #08080a,1px 0.3px 0 #08080a,1px 0px 0 #08080a,0px -0.3px 0 #08080a,0px 0.3px 0 #08080a;">Nutrient</span> <span class="t" style="left:213px;top:667px;font-size:29.65px;font-weight:normal;transform:translate(0.69px,0.96px) scaleX(0.7240);letter-spacing:1.5px;text-shadow:-1px -0.3px 0 #08080a,-1px 0.3px 0 #08080a,-1px 0px 0 #08080a,1px -0.3px 0 #08080a,1px 0.3px 0 #08080a,1px 0px 0 #08080a,0px -0.3px 0 #08080a,0px 0.3px 0 #08080a;">Reference</span> <span class="t" style="left:329px;top:667px;font-size:29.65px;font-weight:normal;transform:translate(0.36px,0.96px) scaleX(0.7223);letter-spacing:1.5px;text-shadow:-1px -0.3px 0 #08080a,-1px 0.3px 0 #08080a,-1px 0px 0 #08080a,1px -0.3px 0 #08080a,1px 0.3px 0 #08080a,1px 0px 0 #08080a,0px -0.3px 0 #08080a,0px 0.3px 0 #08080a;">Values</span> <span class="t" style="left:406px;top:667px;font-size:29.65px;font-weight:normal;transform:translate(0.93px,0.96px) scaleX(0.7267);letter-spacing:1.5px;text-shadow:-1px -0.3px 0 #08080a,-1px 0.3px 0 #08080a,-1px 0px 0 #08080a,1px -0.3px 0 #08080a,1px 0.3px 0 #08080a,1px 0px 0 #08080a,0px -0.3px 0 #08080a,0px 0.3px 0 #08080a;">are</span> <span class="t" style="left:448px;top:667px;font-size:29.65px;font-weight:normal;transform:translate(0.32px,0.96px) scaleX(0.7250);letter-spacing:1.5px;text-shadow:-1px -0.3px 0 #08080a,-1px 0.3px 0 #08080a,-1px 0px 0 #08080a,1px -0.3px 0 #08080a,1px 0.3px 0 #08080a,1px 0px 0 #08080a,0px -0.3px 0 #08080a,0px 0.3px 0 #08080a;">based</span> <span class="t" style="left:518px;top:667px;font-size:29.65px;font-weight:normal;transform:translate(0.79px,0.96px) scaleX(0.7572);letter-spacing:1.5px;text-shadow:-1px -0.3px 0 #08080a,-1px 0.3px 0 #08080a,-1px 0px 0 #08080a,1px -0.3px 0 #08080a,1px 0.3px 0 #08080a,1px 0px 0 #08080a,0px -0.3px 0 #08080a,0px 0.3px 0 #08080a;">on</span> <span class="t" style="left:551px;top:667px;font-size:29.65px;font-weight:normal;transform:translate(0.93px,0.96px) scaleX(0.6622);letter-spacing:1.5px;text-shadow:-1px -0.3px 0 #08080a,-1px 0.3px 0 #08080a,-1px 0px 0 #08080a,1px -0.3px 0 #08080a,1px 0.3px 0 #08080a,1px 0px 0 #08080a,0px -0.3px 0 #08080a,0px 0.3px 0 #08080a;">a</span> <span class="t" style="left:571px;top:667px;font-size:29.65px;font-weight:normal;transform:translate(0.65px,0.96px) scaleX(0.7831);letter-spacing:1.5px;text-shadow:-1px -0.3px 0 #08080a,-1px 0.3px 0 #08080a,-1px 0px 0 #08080a,1px -0.3px 0 #08080a,1px 0.3px 0 #08080a,1px 0px 0 #08080a,0px -0.3px 0 #08080a,0px 0.3px 0 #08080a;">2000</span> <span class="t" style="left:635px;top:667px;font-size:29.65px;font-weight:normal;transform:translate(0.25px,0.96px) scaleX(0.7337);letter-spacing:1.5px;text-shadow:-1px -0.3px 0 #08080a,-1px 0.3px 0 #08080a,-1px 0px 0 #08080a,1px -0.3px 0 #08080a,1px 0.3px 0 #08080a,1px 0px 0 #08080a,0px -0.3px 0 #08080a,0px 0.3px 0 #08080a;">calorie</span> <span class="t" style="left:713px;top:667px;font-size:29.65px;font-weight:normal;transform:translate(0.79px,0.96px) scaleX(0.7671);letter-spacing:1.5px;text-shadow:-1px -0.3px 0 #08080a,-1px 0.3px 0 #08080a,-1px 0px 0 #08080a,1px -0.3px 0 #08080a,1px 0.3px 0 #08080a,1px 0px 0 #08080a,0px -0.3px 0 #08080a,0px 0.3px 0 #08080a;">diet</span>
<span class="t" style="left:32px;top:702px;font-size:29.65px;font-weight:normal;transform:translate(0.71px,0.79px) scaleX(0.7084);letter-spacing:1.5px;text-shadow:-1px -0.3px 0 #08080a,-1px 0.3px 0 #08080a,-1px 0px 0 #08080a,1px -0.3px 0 #08080a,1px 0.3px 0 #08080a,1px 0px 0 #08080a,0px -0.3px 0 #08080a,0px 0.3px 0 #08080a;">Please</span> <span class="t" style="left:111px;top:702px;font-size:30.15px;font-weight:normal;transform:translate(0.45px,0.79px) scaleX(0.7312);letter-spacing:1.5px;text-shadow:-1px -0.3px 0 #08080a,-1px 0.3px 0 #08080a,-1px 0px 0 #08080a,1px -0.3px 0 #08080a,1px 0.3px 0 #08080a,1px 0px 0 #08080a,0px -0.3px 0 #08080a,0px 0.3px 0 #08080a;">note</span> <span class="t" style="left:165px;top:702px;font-size:29.65px;font-weight:normal;transform:translate(0.02px,0.79px) scaleX(0.7788);letter-spacing:1.5px;text-shadow:-1px -0.3px 0 #08080a,-1px 0.3px 0 #08080a,-1px 0px 0 #08080a,1px -0.3px 0 #08080a,1px 0.3px 0 #08080a,1px 0px 0 #08080a,0px -0.3px 0 #08080a,0px 0.3px 0 #08080a;">that</span> <span class="t" style="left:215px;top:702px;font-size:29.65px;font-weight:normal;transform:translate(0.79px,0.79px) scaleX(0.7242);letter-spacing:1.5px;text-shadow:-1px -0.3px 0 #08080a,-1px 0.3px 0 #08080a,-1px 0px 0 #08080a,1px -0.3px 0 #08080a,1px 0.3px 0 #08080a,1px 0px 0 #08080a,0px -0.3px 0 #08080a,0px 0.3px 0 #08080a;">chocolate</span> <span class="t" style="left:324px;top:702px;font-size:30.15px;font-weight:normal;transform:translate(0.63px,0.79px) scaleX(0.7329);letter-spacing:1.5px;text-shadow:-1px -0.3px 0 #08080a,-1px 0.3px 0 #08080a,-1px 0px 0 #08080a,1px -0.3px 0 #08080a,1px 0.3px 0 #08080a,1px 0px 0 #08080a,0px -0.3px 0 #08080a,0px 0.3px 0 #08080a;">varieties</span> <span class="t" style="left:422px;top:702px;font-size:29.65px;font-weight:normal;transform:translate(0.75px,0.79px) scaleX(0.7803);letter-spacing:1.5px;text-shadow:-1px -0.3px 0 #08080a,-1px 0.3px 0 #08080a,-1px 0px 0 #08080a,1px -0.3px 0 #08080a,1px 0.3px 0 #08080a,1px 0px 0 #08080a,0px -0.3px 0 #08080a,0px 0.3px 0 #08080a;">may</span> <span class="t" style="left:478px;top:702px;font-size:29.65px;font-weight:normal;transform:translate(0.44px,0.79px) scaleX(0.6987);letter-spacing:1.5px;text-shadow:-1px -0.3px 0 #08080a,-1px 0.3px 0 #08080a,-1px 0px 0 #08080a,1px -0.3px 0 #08080a,1px 0.3px 0 #08080a,1px 0px 0 #08080a,0px -0.3px 0 #08080a,0px 0.3px 0 #08080a;">be</span> <span class="t" style="left:510px;top:702px;font-size:29.65px;font-weight:normal;transform:translate(0.65px,0.79px) scaleX(0.7281);letter-spacing:1.5px;text-shadow:-1px -0.3px 0 #08080a,-1px 0.3px 0 #08080a,-1px 0px 0 #08080a,1px -0.3px 0 #08080a,1px 0.3px 0 #08080a,1px 0px 0 #08080a,0px -0.3px 0 #08080a,0px 0.3px 0 #08080a;">2-5%</span> <span class="t" style="left:573px;top:702px;font-size:29.65px;font-weight:normal;transform:translate(0.76px,0.79px) scaleX(0.7564);letter-spacing:1.5px;text-shadow:-1px -0.3px 0 #08080a,-1px 0.3px 0 #08080a,-1px 0px 0 #08080a,1px -0.3px 0 #08080a,1px 0.3px 0 #08080a,1px 0px 0 #08080a,0px -0.3px 0 #08080a,0px 0.3px 0 #08080a;">lower</span> <span class="t" style="left:639px;top:702px;font-size:29.65px;font-weight:normal;transform:translate(0.34px,0.79px) scaleX(0.7842);letter-spacing:1.5px;text-shadow:-1px -0.3px 0 #08080a,-1px 0.3px 0 #08080a,-1px 0px 0 #08080a,1px -0.3px 0 #08080a,1px 0.3px 0 #08080a,1px 0px 0 #08080a,0px -0.3px 0 #08080a,0px 0.3px 0 #08080a;">in</span> <span class="t" style="left:665px;top:702px;font-size:29.65px;font-weight:normal;transform:translate(0.87px,0.79px) scaleX(0.7622);letter-spacing:1.5px;text-shadow:-1px -0.3px 0 #08080a,-1px 0.3px 0 #08080a,-1px 0px 0 #08080a,1px -0.3px 0 #08080a,1px 0.3px 0 #08080a,1px 0px 0 #08080a,0px -0.3px 0 #08080a,0px 0.3px 0 #08080a;">protein</span> <span class="t" style="left:750px;top:702px;font-size:29.65px;font-weight:normal;transform:translate(0.04px,0.79px) scaleX(0.7549);letter-spacing:1.5px;text-shadow:-1px -0.3px 0 #08080a,-1px 0.3px 0 #08080a,-1px 0px 0 #08080a,1px -0.3px 0 #08080a,1px 0.3px 0 #08080a,1px 0px 0 #08080a,0px -0.3px 0 #08080a,0px 0.3px 0 #08080a;">content</span>
</div>
</div>
</body>
</html>
